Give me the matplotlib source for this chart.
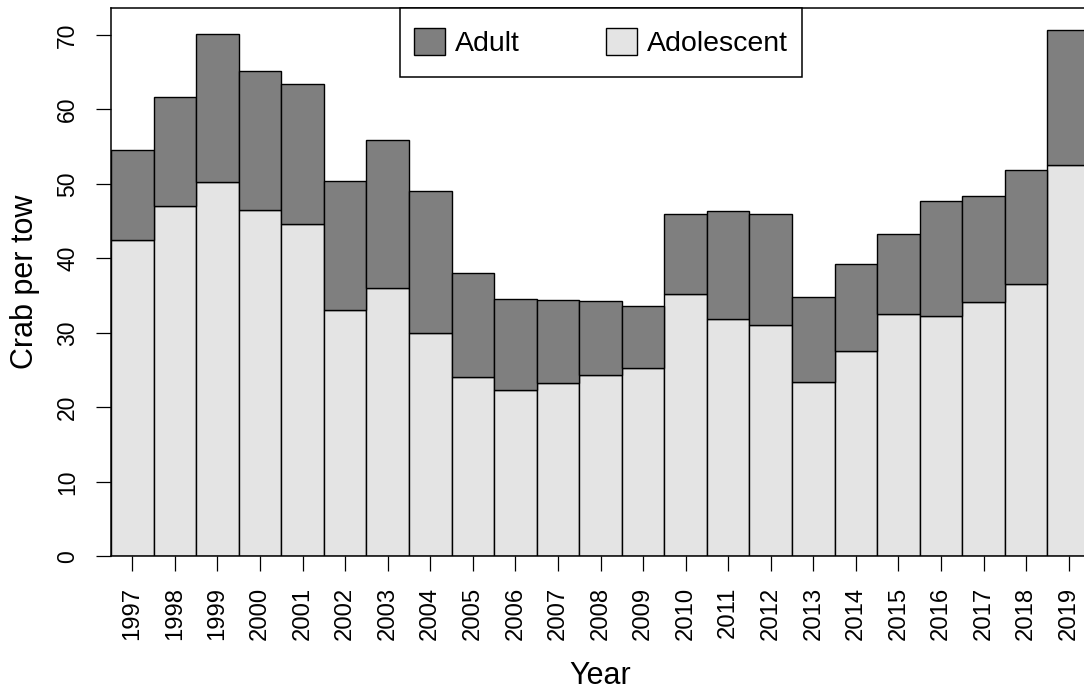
import matplotlib
matplotlib.use("Agg")
import matplotlib.pyplot as plt
from matplotlib.patches import Rectangle
import numpy as np

years = [str(y) for y in range(1997, 2020)]
adolescent = [42.5, 47.0, 50.3, 46.5, 44.6, 33.1, 36.05, 30.0, 24.1, 22.3, 23.2, 24.4,
              25.3, 35.2, 31.9, 31.1, 23.4, 27.6, 32.5, 32.2, 34.1, 36.5, 52.55]
adult = [12.0, 14.7, 19.85, 18.7, 18.8, 17.3, 19.85, 19.0, 13.9, 12.3, 11.2, 9.9,
         8.3, 10.75, 14.5, 14.9, 11.4, 11.6, 10.7, 15.45, 14.3, 15.4, 18.15]
yticks = [0, 10, 20, 30, 40, 50, 60, 70]

plt.rcParams['font.family'] = ['Liberation Sans', 'DejaVu Sans']

W, H = 1084, 692
fig = plt.figure(figsize=(W / 100, H / 100), dpi=100)
ax = fig.add_axes([111 / W, (H - 556.3) / H, (1090 - 111) / W, (556.3 - 8) / H])

x = np.arange(len(years))
ax.bar(x, adolescent, width=1.0, color='#e4e4e4', edgecolor='black', linewidth=1.0,
       label='Adolescent')
ax.bar(x, adult, bottom=adolescent, width=1.0, color='#7f7f7f', edgecolor='black',
       linewidth=1.0, label='Adult')

ax.set_xlim(-0.5, len(years) - 0.5)
ax.set_ylim(0, 73.6)
ax.set_yticks(yticks)
ax.set_yticklabels([str(v) for v in yticks], rotation=90, va='center', fontsize=16.5)
ax.set_xticks(x)
ax.set_xticklabels(years, rotation=90, fontsize=17.2)
ax.tick_params(axis='both', direction='out', length=10.8, width=0.9, color='black')
ax.tick_params(axis='y', pad=12)
ax.tick_params(axis='x', pad=11)
for s in ax.spines.values():
    s.set_linewidth(1.1)
    s.set_color('black')

ax.set_ylabel('Crab per tow', fontsize=22, labelpad=12)
ax.set_xlabel('Year', fontsize=22, labelpad=15)

# legend box (R-style) in figure pixels
lx, ly, lw, lh = 400, 8, 402, 69
fig.patches.append(Rectangle((lx / W, 1 - (ly + lh) / H), lw / W, lh / H,
                             transform=fig.transFigure, facecolor='white',
                             edgecolor='black', linewidth=1.1, zorder=5))
handles, labels = ax.get_legend_handles_labels()
leg = fig.legend(handles[::-1], labels[::-1], ncol=2, loc='center',
                 bbox_to_anchor=(lx / W, 1 - (ly + lh) / H, lw / W, lh / H),
                 bbox_transform=fig.transFigure, borderaxespad=0, borderpad=0,
                 fontsize=20.5, frameon=False, handlelength=1.09, handleheight=1.09,
                 handletextpad=0.35, columnspacing=3.05)
leg.set_zorder(6)

fig.savefig('out.png', dpi=100)
